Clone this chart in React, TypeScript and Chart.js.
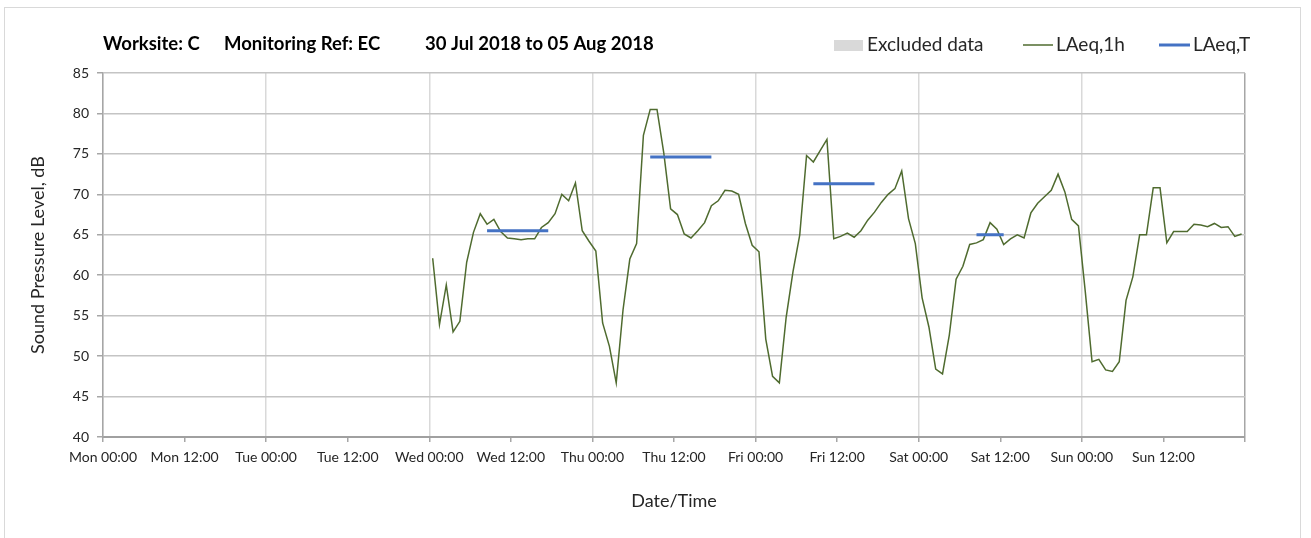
import React, { useEffect, useRef } from 'react';
import { Chart, registerables } from 'chart.js';

Chart.register(...registerables);

// ---------- data ----------
const titleParts = ['Worksite: C', 'Monitoring Ref: EC', '30 Jul 2018 to 05 Aug 2018'];
const legendLabels = ['Excluded data', 'LAeq,1h', 'LAeq,T'];
const xTickLabels = [
  'Mon 00:00', 'Mon 12:00', 'Tue 00:00', 'Tue 12:00', 'Wed 00:00', 'Wed 12:00', 'Thu 00:00',
  'Thu 12:00', 'Fri 00:00', 'Fri 12:00', 'Sat 00:00', 'Sat 12:00', 'Sun 00:00', 'Sun 12:00',
];
const xAxisTitle = 'Date/Time';
const yAxisTitle = 'Sound Pressure Level, dB';
const yMin = 40;
const yMax = 85;
const yStep = 5;
const weekHours = 168;

// hourly readings, first one at Wed 00:00 (hour 48 of the week), plotted mid-hour
const firstReadingHour = 48;
const readingOffset = 0.5;
const laeq1hWed = [62.1, 53.9, 58.8, 53.0, 54.3, 61.6, 65.3, 67.6, 66.3, 66.9, 65.4, 64.6, 64.5, 64.4, 64.5, 64.5, 65.9, 66.5, 67.6, 70.0, 69.2, 71.4, 65.5, 64.2];
const laeq1hThu = [63.0, 54.1, 51.2, 46.7, 55.7, 62.0, 63.9, 77.3, 80.5, 80.5, 75.1, 68.2, 67.5, 65.1, 64.6, 65.5, 66.5, 68.6, 69.2, 70.5, 70.4, 70.0, 66.4, 63.7];
const laeq1hFri = [62.9, 52.1, 47.5, 46.7, 54.8, 60.4, 65.0, 74.8, 74.0, 75.4, 76.8, 64.5, 64.8, 65.2, 64.7, 65.5, 66.8, 67.8, 69.0, 70.0, 70.7, 72.9, 67.0, 63.9];
const laeq1hSat = [57.2, 53.6, 48.4, 47.8, 52.6, 59.5, 61.1, 63.8, 64.0, 64.4, 66.5, 65.7, 63.8, 64.5, 65.0, 64.6, 67.7, 68.9, 69.7, 70.5, 72.5, 70.3, 66.9, 66.1];
const laeq1hSun = [58.0, 49.3, 49.6, 48.3, 48.1, 49.3, 56.9, 59.8, 65.0, 65.0, 70.8, 70.8, 64.0, 65.4, 65.4, 65.4, 66.3, 66.2, 66.0, 66.4, 65.9, 66.0, 64.8, 65.1];
const laeq1h = [...laeq1hWed, ...laeq1hThu, ...laeq1hFri, ...laeq1hSat, ...laeq1hSun];

// LAeq,T periods (start / end hour of week, level)
const periodStartHours = [56, 80, 104, 128];
const periodEndHours = [65, 89, 113, 132];
const periodLevels = [65.5, 74.6, 71.3, 65.0];

// ---------- styles ----------
const FONT = 'Lato';
const TEXT = '#262626';
const GREEN = '#4f6b2f';
const BLUE = '#4472c4';
const GREY_BOX = '#d9d9d9';

const decorPlugin = {
  id: 'decor',
  beforeDraw(chart: any) {
    const { ctx, width, height } = chart;
    ctx.save();
    ctx.fillStyle = '#ffffff';
    ctx.fillRect(0, 0, width, height);
    ctx.strokeStyle = '#d9d9d9';
    ctx.lineWidth = 1;
    ctx.strokeRect(4.5, 7.5, 1296, 545);
    ctx.restore();
  },
  afterDraw(chart: any) {
    const { ctx } = chart;
    ctx.save();
    // title
    ctx.fillStyle = '#000000';
    ctx.textBaseline = 'middle';
    ctx.textAlign = 'left';
    ctx.font = `bold 18.5px ${FONT}`;
    const titleX = [103, 224, 425];
    titleParts.forEach((t, i) => ctx.fillText(t, titleX[i], 44));

    // legend
    ctx.font = `19px ${FONT}`;
    const ly = 45;
    ctx.fillStyle = GREY_BOX;
    ctx.fillRect(834, ly - 5, 29, 11);
    ctx.fillStyle = TEXT;
    ctx.fillText(legendLabels[0], 867, ly);

    ctx.strokeStyle = GREEN;
    ctx.lineWidth = 1.5;
    ctx.beginPath();
    ctx.moveTo(1023, ly);
    ctx.lineTo(1053, ly);
    ctx.stroke();
    ctx.fillText(legendLabels[1], 1056, ly);

    ctx.strokeStyle = BLUE;
    ctx.lineWidth = 3;
    ctx.beginPath();
    ctx.moveTo(1159, ly);
    ctx.lineTo(1190, ly);
    ctx.stroke();
    ctx.fillText(legendLabels[2], 1193, ly);
    ctx.restore();
  },
};

export default function App() {
  const canvasRef = useRef<HTMLCanvasElement | null>(null);

  useEffect(() => {
    const canvas = canvasRef.current;
    if (!canvas) return;

    const hourlyPoints = laeq1h.map((v, i) => ({ x: firstReadingHour + i + readingOffset, y: v }));
    const periodPoints: { x: number; y: number | null }[] = [];
    periodLevels.forEach((lvl, i) => {
      periodPoints.push({ x: periodStartHours[i] + readingOffset, y: lvl });
      periodPoints.push({ x: periodEndHours[i] + readingOffset, y: lvl });
      periodPoints.push({ x: periodEndHours[i] + readingOffset + 0.5, y: null });
    });

    const chart = new Chart(canvas, {
      type: 'line',
      data: {
        datasets: [
          {
            label: legendLabels[0],
            data: [],
            borderColor: GREY_BOX,
            backgroundColor: GREY_BOX,
            order: 2,
          },
          {
            label: legendLabels[1],
            data: hourlyPoints,
            borderColor: GREEN,
            borderWidth: 1.5,
            pointRadius: 0,
            tension: 0,
            order: 1,
          },
          {
            label: legendLabels[2],
            data: periodPoints as any,
            borderColor: BLUE,
            borderWidth: 3,
            pointRadius: 0,
            spanGaps: false,
            order: 0,
          },
        ],
      },
      options: {
        animation: false,
        responsive: false,
        devicePixelRatio: 1,
        layout: { padding: { top: 73, right: 66, left: 0, bottom: 0 } },
        plugins: {
          legend: { display: false },
          title: { display: false },
          tooltip: { enabled: false },
        },
        scales: {
          x: {
            type: 'linear',
            min: 0,
            max: weekHours,
            afterFit: (s: any) => {
              s.height = 101;
            },
            afterBuildTicks: (s: any) => {
              const t = xTickLabels.map((_, i) => ({ value: i * 12 }));
              t.push({ value: weekHours });
              s.ticks = t;
            },
            ticks: {
              autoSkip: false,
              maxRotation: 0,
              minRotation: 0,
              padding: 7,
              color: TEXT,
              font: { family: FONT, size: 14 },
              callback: (v: any) => {
                const idx = Math.round(Number(v) / 12);
                return Number(v) < weekHours ? xTickLabels[idx] : '';
              },
            },
            grid: {
              color: (c: any) => {
                const v = c.tick ? c.tick.value : 0;
                if (v === weekHours) return '#a6a6a6';
                return v % 24 === 0 ? '#d9d9d9' : 'rgba(0,0,0,0)';
              },
              lineWidth: 1.5,
              tickColor: '#a6a6a6',
              tickLength: 5,
            },
            border: { color: '#a0a0a0', width: 2 },
            title: {
              display: true,
              text: xAxisTitle,
              color: TEXT,
              font: { family: FONT, size: 18 },
              padding: { top: 0, bottom: 26 },
            },
          },
          y: {
            min: yMin,
            max: yMax,
            afterFit: (s: any) => {
              s.width = 103;
            },
            ticks: {
              stepSize: yStep,
              padding: 8,
              color: TEXT,
              font: { family: FONT, size: 14 },
            },
            grid: {
              color: '#c4c4c4',
              lineWidth: 1.5,
              tickColor: '#a6a6a6',
              tickLength: 6,
            },
            border: { color: '#a6a6a6', width: 1.5 },
            title: {
              display: true,
              text: yAxisTitle,
              color: TEXT,
              font: { family: FONT, size: 18 },
              padding: { top: 27, bottom: 0 },
            },
          },
        },
      },
      plugins: [decorPlugin],
    });

    return () => chart.destroy();
  }, []);

  return (
    <canvas
      ref={canvasRef}
      width={1311}
      height={538}
      style={{ position: 'fixed', left: 0, top: 0, width: 1311, height: 538 }}
    />
  );
}
